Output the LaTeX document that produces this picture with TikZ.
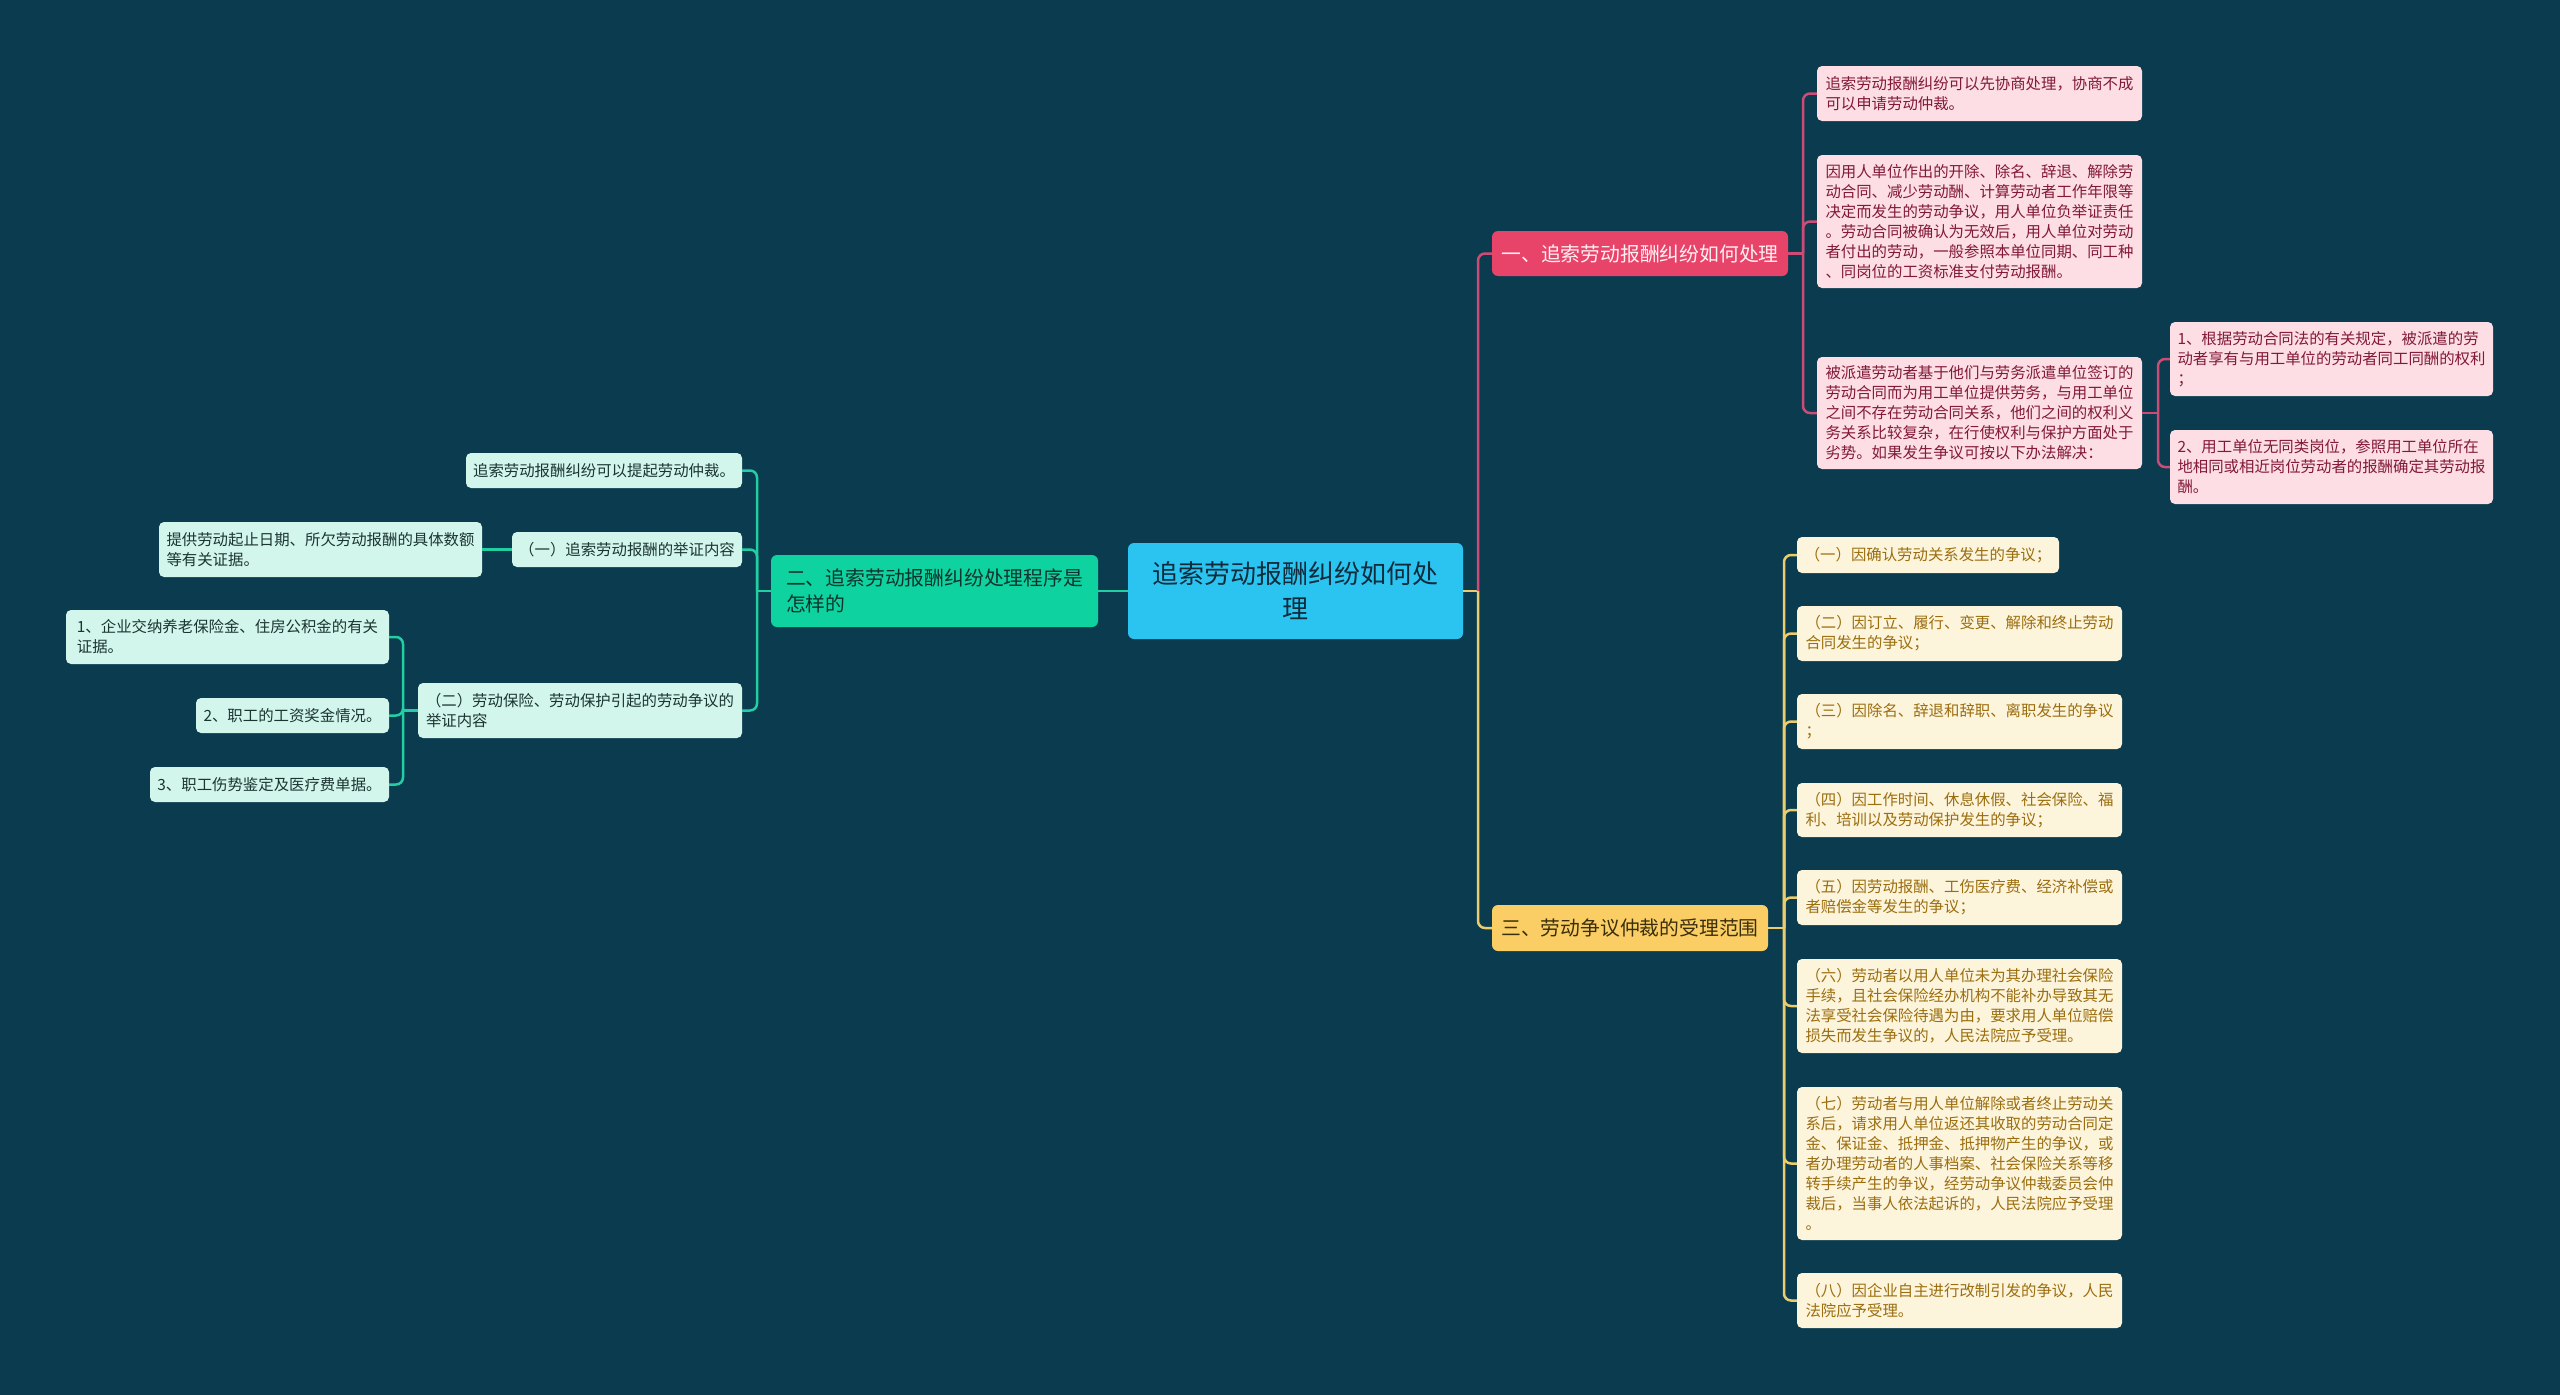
\documentclass[tikz,border=0pt]{standalone}
\usepackage{fontspec}
\setmainfont{Noto Sans CJK SC}
\definecolor{bg}{HTML}{0A3B4F}
\definecolor{rootfill}{HTML}{2BC4F0}
\definecolor{roottext}{HTML}{0F2B3C}
\definecolor{pfill}{HTML}{E8446A}
\definecolor{ptext}{HTML}{FFF0F3}
\definecolor{pleaffill}{HTML}{FCDEE4}
\definecolor{pleaftext}{HTML}{821937}
\definecolor{plinec}{HTML}{CC4C76}
\definecolor{yfill}{HTML}{FACE64}
\definecolor{ytext}{HTML}{3B2E0A}
\definecolor{yleaffill}{HTML}{FDF4DC}
\definecolor{yleaftext}{HTML}{9B6E0F}
\definecolor{ylinec}{HTML}{EBCD6E}
\definecolor{gfill}{HTML}{0ED2A0}
\definecolor{gtext}{HTML}{10332C}
\definecolor{gleaffill}{HTML}{D2F5EC}
\definecolor{gleaftext}{HTML}{1B3530}
\definecolor{glinec}{HTML}{22CFA3}
\begin{document}
\begin{tikzpicture}[x=1pt,y=-1pt,
  mmbox/.style={rounded corners=5pt, inner sep=0pt, align=left},
  wh/.style 2 args={minimum width=#1pt, minimum height=#2pt},
  mmleaf/.style={mmbox, font=\fontsize{15.4pt}{20pt}\selectfont},
  pleaf/.style={mmleaf, fill=pleaffill, text=pleaftext},
  yleaf/.style={mmleaf, fill=yleaffill, text=yleaftext},
  gleaf/.style={mmleaf, fill=gleaffill, text=gleaftext},
  mmbranch/.style={mmbox, rounded corners=6pt, font=\fontsize{19.8pt}{26pt}\selectfont},
  mmroot/.style={mmbox, rounded corners=6pt, align=center, fill=rootfill, text=roottext, font=\fontsize{26pt}{35pt}\selectfont},
  mmconn/.style={line width=2.5pt, rounded corners=7pt},
  pline/.style={mmconn, draw=plinec},
  yline/.style={mmconn, draw=ylinec},
  gline/.style={mmconn, draw=glinec}
]
\useasboundingbox[fill=bg] (0,0) rectangle (2560,1395);

% bus coordinates
\coordinate (busR) at (1478,0);
\coordinate (busP) at (1803,0);
\coordinate (busP3) at (2158,0);
\coordinate (busY) at (1784,0);
\coordinate (busG) at (757,0);
\coordinate (busG3) at (403,0);

% root
\node[mmroot, wh={335}{96}] (root) at (1295.5,591) {追索劳动报酬纠纷如何处\\理};

% branches
\node[mmbranch, wh={296}{45}, fill=pfill, text=ptext] (pk) at (1640,253.5) {一、追索劳动报酬纠纷如何处理};
\node[mmbranch, wh={327}{72}, fill=gfill, text=gtext] (gr) at (934.5,591) {二、追索劳动报酬纠纷处理程序是\\怎样的};
\node[mmbranch, wh={276}{46}, fill=yfill, text=ytext] (yl) at (1630,928) {三、劳动争议仲裁的受理范围};

% pink leaves
\node[pleaf, wh={325}{55}] (p1) at (1979.5,93.5) {追索劳动报酬纠纷可以先协商处理，协商不成\\可以申请劳动仲裁。};
\node[pleaf, wh={325}{133}] (p2) at (1979.5,221.5) {因用人单位作出的开除、除名、辞退、解除劳\\动合同、减少劳动酬、计算劳动者工作年限等\\决定而发生的劳动争议，用人单位负举证责任\\。劳动合同被确认为无效后，用人单位对劳动\\者付出的劳动，一般参照本单位同期、同工种\\、同岗位的工资标准支付劳动报酬。};
\node[pleaf, wh={325}{112}] (p3) at (1979.5,413) {被派遣劳动者基于他们与劳务派遣单位签订的\\劳动合同而为用工单位提供劳务，与用工单位\\之间不存在劳动合同关系，他们之间的权利义\\务关系比较复杂，在行使权利与保护方面处于\\劣势。如果发生争议可按以下办法解决：};
\node[pleaf, wh={323}{74}] (p3a) at (2331.5,359) {1、根据劳动合同法的有关规定，被派遣的劳\\动者享有与用工单位的劳动者同工同酬的权利\\；};
\node[pleaf, wh={323}{74}] (p3b) at (2331.5,467) {2、用工单位无同类岗位，参照用工单位所在\\地相同或相近岗位劳动者的报酬确定其劳动报\\酬。};

% yellow leaves
\node[yleaf, wh={262}{36}] (y1) at (1928,555) {（一）因确认劳动关系发生的争议；};
\node[yleaf, wh={325}{55}] (y2) at (1959.5,633.5) {（二）因订立、履行、变更、解除和终止劳动\\合同发生的争议；};
\node[yleaf, wh={325}{55}] (y3) at (1959.5,721.5) {（三）因除名、辞退和辞职、离职发生的争议\\；};
\node[yleaf, wh={325}{54}] (y4) at (1959.5,810) {（四）因工作时间、休息休假、社会保险、福\\利、培训以及劳动保护发生的争议；};
\node[yleaf, wh={325}{55}] (y5) at (1959.5,897.5) {（五）因劳动报酬、工伤医疗费、经济补偿或\\者赔偿金等发生的争议；};
\node[yleaf, wh={325}{94}] (y6) at (1959.5,1006) {（六）劳动者以用人单位未为其办理社会保险\\手续，且社会保险经办机构不能补办导致其无\\法享受社会保险待遇为由，要求用人单位赔偿\\损失而发生争议的，人民法院应予受理。};
\node[yleaf, wh={325}{153}] (y7) at (1959.5,1163.5) {（七）劳动者与用人单位解除或者终止劳动关\\系后，请求用人单位返还其收取的劳动合同定\\金、保证金、抵押金、抵押物产生的争议，或\\者办理劳动者的人事档案、社会保险关系等移\\转手续产生的争议，经劳动争议仲裁委员会仲\\裁后，当事人依法起诉的，人民法院应予受理\\。};
\node[yleaf, wh={325}{55}] (y8) at (1959.5,1300.5) {（八）因企业自主进行改制引发的争议，人民\\法院应予受理。};

% green leaves
\node[gleaf, wh={276}{35}] (g1) at (604,470.5) {追索劳动报酬纠纷可以提起劳动仲裁。};
\node[gleaf, wh={230}{35}] (g2) at (627,549.5) {（一）追索劳动报酬的举证内容};
\node[gleaf, wh={324}{55}] (g3) at (580,710.5) {（二）劳动保险、劳动保护引起的劳动争议的\\举证内容};
\node[gleaf, wh={323}{55}] (h1) at (320.5,549.5) {提供劳动起止日期、所欠劳动报酬的具体数额\\等有关证据。};
\node[gleaf, wh={323}{54}] (k1) at (227.5,637) {1、企业交纳养老保险金、住房公积金的有关\\证据。};
\node[gleaf, wh={193}{35}] (k2) at (292.5,715.5) {2、职工的工资奖金情况。};
\node[gleaf, wh={239}{35}] (k3) at (269.5,784.5) {3、职工伤势鉴定及医疗费单据。};

% connectors: root
\draw[yline] (root.east) -- (root.east -| busR);
\draw[pline] (busR |- root.east) |- (pk.west);
\draw[yline] (busR |- root.east) |- (yl.west);
\draw[gline] (root.west) -- (gr.east);

% pink
\draw[pline] (pk.east) -- (pk.east -| busP);
\foreach \c in {p1,p2,p3} \draw[pline] (busP |- pk.east) |- (\c.west);
\draw[pline] (p3.east) -- (p3.east -| busP3);
\foreach \c in {p3a,p3b} \draw[pline] (busP3 |- p3.east) |- (\c.west);

% yellow
\draw[yline] (yl.east) -- (yl.east -| busY);
\foreach \c in {y1,y2,y3,y4,y5,y6,y7,y8} \draw[yline] (busY |- yl.east) |- (\c.west);

% green
\draw[gline] (gr.west) -- (gr.west -| busG);
\foreach \c in {g1,g2,g3} \draw[gline] (busG |- gr.west) |- (\c.east);
\draw[gline] (g2.west) -- (h1.east);
\draw[gline] (g3.west) -- (g3.west -| busG3);
\foreach \c in {k1,k2,k3} \draw[gline] (busG3 |- g3.west) |- (\c.east);
\end{tikzpicture}
\end{document}
